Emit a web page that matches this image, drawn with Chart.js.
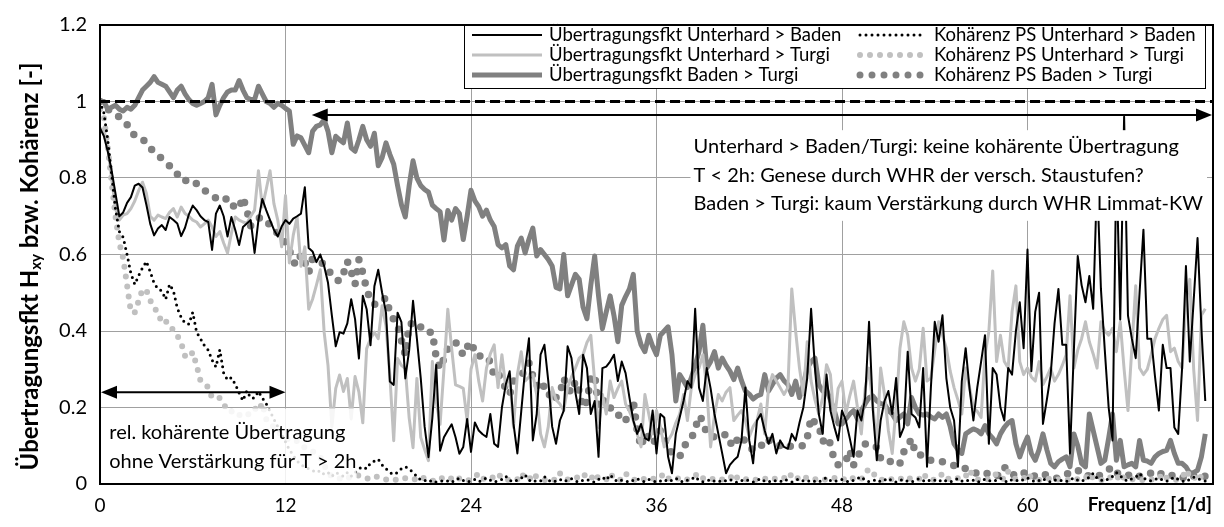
<!DOCTYPE html>
<html>
<head>
<meta charset="utf-8">
<script src="https://cdn.jsdelivr.net/npm/chart.js@4.4.1/dist/chart.umd.min.js"></script>
<style>
  html, body { margin: 0; padding: 0; background: #fff; }
  #wrap { width: 1224px; height: 527px; }
</style>
</head>
<body>
<div id="wrap"><canvas id="spectrumChart" width="1224" height="527"></canvas></div>
<script>
// Frequency grid: one value every 0.25 1/d, starting at 0
const FREQ_STEP = 0.25;
const xTicks = [0, 12, 24, 36, 48, 60, 72];
const yTicks = [0, 0.2, 0.4, 0.6, 0.8, 1, 1.2];

// Übertragungsfkt Unterhard > Baden
const trfUB = [
  0.93, 0.91, 0.87, 0.82, 0.76, 0.70, 0.71, 0.735,
  0.75, 0.78, 0.785, 0.775, 0.73, 0.68, 0.65, 0.668,
  0.677, 0.664, 0.698, 0.69, 0.681, 0.648, 0.67, 0.705,
  0.728, 0.716, 0.70, 0.69, 0.685, 0.612, 0.707, 0.728,
  0.70, 0.647, 0.698, 0.664, 0.625, 0.672, 0.681, 0.69,
  0.604, 0.69, 0.745, 0.716, 0.69, 0.665, 0.647, 0.673,
  0.69, 0.68, 0.694, 0.70, 0.707, 0.776, 0.617, 0.608,
  0.58, 0.60, 0.57, 0.526, 0.44, 0.36, 0.397, 0.393,
  0.42, 0.483, 0.431, 0.328, 0.492, 0.457, 0.363, 0.517,
  0.56, 0.50, 0.448, 0.268, 0.259, 0.448, 0.423, 0.276,
  0.35, 0.479, 0.38, 0.276, 0.15, 0.07, 0.173, 0.311,
  0.087, 0.122, 0.14, 0.156, 0.122, 0.079, 0.097, 0.17,
  0.084, 0.161, 0.14, 0.13, 0.123, 0.183, 0.105, 0.097,
  0.20, 0.26, 0.295, 0.157, 0.08, 0.19, 0.30, 0.381,
  0.114, 0.183, 0.338, 0.364, 0.269, 0.15, 0.105, 0.166,
  0.192, 0.36, 0.329, 0.24, 0.183, 0.338, 0.303, 0.183,
  0.217, 0.071, 0.303, 0.307, 0.32, 0.338, 0.269, 0.32,
  0.29, 0.226, 0.166, 0.131, 0.157, 0.12, 0.114, 0.192,
  0.08, 0.183, 0.174, 0.071, 0.028, 0.131, 0.174, 0.217,
  0.269, 0.252, 0.458, 0.252, 0.217, 0.303, 0.25, 0.183,
  0.131, 0.08, 0.028, 0.05, 0.062, 0.071, 0.114, 0.252,
  0.114, 0.054, 0.166, 0.183, 0.14, 0.105, 0.131, 0.08,
  0.114, 0.097, 0.092, 0.131, 0.114, 0.16, 0.2, 0.277,
  0.458, 0.303, 0.183, 0.131, 0.286, 0.192, 0.15, 0.114,
  0.192, 0.166, 0.12, 0.071, 0.192, 0.166, 0.226, 0.424,
  0.192, 0.062, 0.166, 0.217, 0.243, 0.183, 0.277, 0.123,
  0.148, 0.346, 0.183, 0.174, 0.148, 0.303, 0.045, 0.252,
  0.424, 0.372, 0.441, 0.277, 0.2, 0.166, 0.045, 0.269,
  0.355, 0.25, 0.166, 0.252, 0.32, 0.389, 0.105, 0.303,
  0.286, 0.2, 0.166, 0.303, 0.286, 0.40, 0.475, 0.355,
  0.613, 0.295, 0.45, 0.5, 0.157, 0.22, 0.286, 0.42,
  0.51, 0.364, 0.364, 0.08, 0.35, 0.596, 0.52, 0.475,
  0.544, 0.458, 0.80, 0.51, 0.35, 0.2, 0.114, 0.85,
  0.43, 0.96, 0.44, 0.38, 0.329, 0.50, 0.665, 0.38,
  0.38, 0.28, 0.192, 0.364, 0.303, 0.303, 0.148, 0.131,
  0.303, 0.57, 0.32, 0.48, 0.643, 0.407, 0.217
];

// Übertragungsfkt Unterhard > Turgi
const trfUT = [
  0.93, 0.925, 0.88, 0.80, 0.72, 0.69, 0.703, 0.707,
  0.72, 0.74, 0.767, 0.789, 0.76, 0.70, 0.69, 0.703,
  0.698, 0.694, 0.71, 0.72, 0.698, 0.724, 0.707, 0.70,
  0.69, 0.685, 0.672, 0.68, 0.69, 0.672, 0.647, 0.66,
  0.63, 0.604, 0.655, 0.698, 0.69, 0.685, 0.681, 0.70,
  0.716, 0.819, 0.724, 0.77, 0.819, 0.733, 0.69, 0.62,
  0.754, 0.578, 0.65, 0.698, 0.569, 0.62, 0.457, 0.483,
  0.52, 0.56, 0.397, 0.31, 0.15, 0.25, 0.285, 0.242,
  0.276, 0.17, 0.281, 0.24, 0.16, 0.354, 0.38, 0.397,
  0.38, 0.466, 0.414, 0.285, 0.113, 0.328, 0.31, 0.302,
  0.173, 0.095, 0.276, 0.122, 0.09, 0.061, 0.32, 0.216,
  0.156, 0.30, 0.457, 0.354, 0.259, 0.255, 0.25, 0.165,
  0.30, 0.338, 0.269, 0.217, 0.303, 0.34, 0.364, 0.252,
  0.338, 0.252, 0.286, 0.148, 0.286, 0.346, 0.269, 0.28,
  0.286, 0.234, 0.131, 0.097, 0.15, 0.252, 0.22, 0.209,
  0.192, 0.252, 0.28, 0.303, 0.329, 0.338, 0.37, 0.389,
  0.269, 0.148, 0.234, 0.183, 0.269, 0.226, 0.25, 0.269,
  0.209, 0.19, 0.166, 0.131, 0.097, 0.234, 0.183, 0.131,
  0.192, 0.15, 0.097, 0.114, 0.131, 0.16, 0.183, 0.234,
  0.166, 0.25, 0.286, 0.303, 0.338, 0.252, 0.097, 0.18,
  0.234, 0.217, 0.24, 0.252, 0.166, 0.18, 0.192, 0.166,
  0.123, 0.15, 0.166, 0.209, 0.131, 0.252, 0.286, 0.27,
  0.252, 0.234, 0.252, 0.51, 0.40, 0.303, 0.234, 0.372,
  0.269, 0.22, 0.183, 0.226, 0.312, 0.286, 0.166, 0.25,
  0.269, 0.183, 0.23, 0.269, 0.2, 0.131, 0.25, 0.303,
  0.2, 0.105, 0.303, 0.234, 0.14, 0.08, 0.2, 0.355,
  0.424, 0.389, 0.303, 0.269, 0.3, 0.407, 0.269, 0.277,
  0.35, 0.424, 0.389, 0.355, 0.295, 0.252, 0.22, 0.183,
  0.303, 0.252, 0.2, 0.19, 0.174, 0.338, 0.398, 0.557,
  0.32, 0.389, 0.32, 0.303, 0.45, 0.518, 0.32, 0.286,
  0.303, 0.28, 0.269, 0.32, 0.26, 0.28, 0.303, 0.269,
  0.286, 0.31, 0.338, 0.492, 0.303, 0.35, 0.38, 0.424,
  0.372, 0.34, 0.303, 0.424, 0.40, 0.389, 0.407, 0.346,
  0.424, 0.30, 0.192, 0.355, 0.518, 0.303, 0.286, 0.30,
  0.338, 0.38, 0.407, 0.43, 0.441, 0.346, 0.355, 0.32,
  0.303, 0.475, 0.535, 0.30, 0.166, 0.441, 0.458
];

// Übertragungsfkt Baden > Turgi
const trfBT = [
  1.0, 1.0, 0.98, 0.985, 0.99, 0.98, 0.975, 0.985,
  0.98, 0.99, 1.01, 1.03, 1.04, 1.05, 1.065, 1.05,
  1.045, 1.04, 1.025, 1.01, 1.03, 1.04, 1.02, 1.005,
  0.995, 0.99, 0.995, 1.0, 1.01, 1.045, 0.965, 0.99,
  1.01, 1.025, 1.03, 1.03, 1.055, 1.03, 1.01, 1.005,
  1.005, 1.04, 1.02, 1.0, 0.995, 0.985, 0.995, 0.99,
  0.982, 0.975, 0.888, 0.91, 0.905, 0.885, 0.866, 0.922,
  0.935, 0.939, 0.952, 0.922, 0.866, 0.909, 0.90, 0.892,
  0.944, 0.879, 0.87, 0.90, 0.935, 0.9, 0.883, 0.917,
  0.832, 0.853, 0.892, 0.862, 0.836, 0.78, 0.73, 0.698,
  0.78, 0.845, 0.80, 0.78, 0.77, 0.763, 0.729, 0.72,
  0.712, 0.638, 0.715, 0.69, 0.72, 0.707, 0.639, 0.70,
  0.768, 0.74, 0.725, 0.70, 0.716, 0.69, 0.673, 0.626,
  0.617, 0.626, 0.57, 0.56, 0.622, 0.643, 0.604, 0.64,
  0.669, 0.596, 0.613, 0.60, 0.587, 0.57, 0.514, 0.51,
  0.60, 0.492, 0.52, 0.548, 0.535, 0.462, 0.432, 0.52,
  0.596, 0.492, 0.406, 0.45, 0.492, 0.44, 0.372, 0.467,
  0.49, 0.51, 0.548, 0.40, 0.364, 0.346, 0.389, 0.36,
  0.338, 0.389, 0.40, 0.411, 0.338, 0.217, 0.286, 0.27,
  0.252, 0.277, 0.31, 0.346, 0.415, 0.303, 0.32, 0.346,
  0.303, 0.329, 0.31, 0.295, 0.273, 0.303, 0.27, 0.243,
  0.235, 0.222, 0.23, 0.234, 0.286, 0.243, 0.26, 0.277,
  0.286, 0.27, 0.26, 0.234, 0.269, 0.226, 0.26, 0.303,
  0.32, 0.329, 0.26, 0.243, 0.247, 0.22, 0.192, 0.157,
  0.157, 0.17, 0.183, 0.192, 0.17, 0.192, 0.21, 0.226,
  0.23, 0.217, 0.21, 0.209, 0.192, 0.183, 0.166, 0.175,
  0.183, 0.157, 0.226, 0.2, 0.183, 0.18, 0.183, 0.175,
  0.17, 0.183, 0.174, 0.183, 0.15, 0.105, 0.09, 0.08,
  0.131, 0.138, 0.144, 0.14, 0.131, 0.153, 0.131, 0.12,
  0.105, 0.131, 0.148, 0.16, 0.166, 0.105, 0.071, 0.1,
  0.123, 0.08, 0.062, 0.09, 0.131, 0.09, 0.054, 0.045,
  0.058, 0.065, 0.071, 0.045, 0.131, 0.1, 0.054, 0.045,
  0.183, 0.14, 0.097, 0.054, 0.062, 0.12, 0.183, 0.062,
  0.114, 0.045, 0.05, 0.054, 0.045, 0.114, 0.062, 0.06,
  0.054, 0.071, 0.08, 0.085, 0.088, 0.114, 0.08, 0.054,
  0.054, 0.045, 0.028, 0.03, 0.036, 0.071, 0.131
];

// Kohärenz PS Unterhard > Baden
const cohUB = [
  1.0, 0.97, 0.90, 0.81, 0.72, 0.66, 0.645, 0.60,
  0.55, 0.522, 0.545, 0.565, 0.582, 0.555, 0.525, 0.51,
  0.505, 0.483, 0.522, 0.505, 0.46, 0.436, 0.42, 0.418,
  0.449, 0.397, 0.38, 0.362, 0.35, 0.324, 0.306, 0.351,
  0.29, 0.272, 0.278, 0.261, 0.238, 0.218, 0.244, 0.225,
  0.225, 0.242, 0.225, 0.21, 0.19, 0.17, 0.15, 0.13,
  0.11, 0.09, 0.075, 0.06, 0.05, 0.045, 0.04, 0.035,
  0.03, 0.035, 0.025, 0.03, 0.02, 0.03, 0.025, 0.02,
  0.03, 0.02, 0.03, 0.04, 0.045, 0.04, 0.055, 0.06,
  0.065, 0.05, 0.04, 0.03, 0.025, 0.03, 0.04, 0.045,
  0.04, 0.03, 0.02, 0.01, 0.01, 0.005, 0.01, 0.005,
  0.006, 0.010, 0.008, 0.004, 0.012, 0.015, 0.009, 0.005,
  0.008, 0.012, 0.006, 0.010, 0.016, 0.010, 0.005, 0.008,
  0.012, 0.020, 0.010, 0.006, 0.010, 0.015, 0.024, 0.010,
  0.005, 0.010, 0.008, 0.019, 0.010, 0.005, 0.008, 0.012,
  0.006, 0.010, 0.014, 0.008, 0.005, 0.010, 0.012, 0.007,
  0.005, 0.012, 0.018, 0.010, 0.024, 0.012, 0.006, 0.010,
  0.008, 0.005, 0.010, 0.014, 0.008, 0.006, 0.012, 0.009,
  0.005, 0.008, 0.012, 0.006, 0.010, 0.015, 0.008, 0.005,
  0.010, 0.012, 0.019, 0.010, 0.006, 0.008, 0.012, 0.007,
  0.005, 0.010, 0.008, 0.012, 0.006, 0.004, 0.009, 0.012,
  0.008, 0.005, 0.010, 0.014, 0.007, 0.005, 0.010, 0.008,
  0.006, 0.012, 0.009, 0.005, 0.010, 0.013, 0.008, 0.006,
  0.010, 0.007, 0.005, 0.012, 0.016, 0.009, 0.006, 0.010,
  0.012, 0.008, 0.005, 0.010, 0.014, 0.019, 0.010, 0.006,
  0.008, 0.012, 0.006, 0.010, 0.015, 0.008, 0.005, 0.010,
  0.012, 0.007, 0.005, 0.010, 0.014, 0.009, 0.006, 0.012,
  0.010, 0.006, 0.012, 0.008, 0.005, 0.010, 0.014, 0.008,
  0.006, 0.012, 0.010, 0.005, 0.008, 0.013, 0.009, 0.006,
  0.010, 0.015, 0.008, 0.005, 0.012, 0.010, 0.007, 0.012,
  0.016, 0.010, 0.006, 0.009, 0.014, 0.008, 0.005, 0.010,
  0.012, 0.008, 0.006, 0.011, 0.016, 0.010, 0.007, 0.012,
  0.018, 0.028, 0.015, 0.010, 0.008, 0.014, 0.020, 0.030,
  0.022, 0.012, 0.008, 0.014, 0.018, 0.028, 0.016, 0.010,
  0.008, 0.012, 0.016, 0.010, 0.007, 0.012, 0.018, 0.012,
  0.008, 0.006, 0.012, 0.018, 0.014, 0.010, 0.008
];

// Kohärenz PS Unterhard > Turgi
const cohUT = [
  0.98, 0.96, 0.88, 0.79, 0.70, 0.63, 0.59, 0.52,
  0.449, 0.449, 0.479, 0.509, 0.507, 0.48, 0.46, 0.449,
  0.42, 0.425, 0.42, 0.40, 0.388, 0.369, 0.335, 0.33,
  0.345, 0.31, 0.27, 0.262, 0.253, 0.225, 0.224, 0.225,
  0.21, 0.19, 0.19, 0.178, 0.18, 0.182, 0.178, 0.19,
  0.199, 0.19, 0.212, 0.17, 0.155, 0.15, 0.14, 0.125,
  0.12, 0.115, 0.11, 0.113, 0.105, 0.095, 0.09, 0.085,
  0.08, 0.07, 0.05, 0.03, 0.02, 0.015, 0.014, 0.02,
  0.018, 0.015, 0.02, 0.023, 0.02, 0.015, 0.012, 0.018,
  0.02, 0.015, 0.012, 0.014, 0.01, 0.012, 0.01, 0.015,
  0.012, 0.010, 0.015, 0.020, 0.014, 0.010, 0.008, 0.012,
  0.018, 0.012, 0.010, 0.015, 0.022, 0.014, 0.010, 0.008,
  0.012, 0.018, 0.028, 0.015, 0.010, 0.012, 0.020, 0.028,
  0.014, 0.010, 0.012, 0.016, 0.012, 0.028, 0.015, 0.010,
  0.028, 0.018, 0.012, 0.010, 0.015, 0.012, 0.010, 0.028,
  0.016, 0.012, 0.010, 0.014, 0.020, 0.028, 0.015, 0.012,
  0.028, 0.014, 0.010, 0.012, 0.028, 0.015, 0.010, 0.012,
  0.028, 0.016, 0.012, 0.010, 0.015, 0.012, 0.010, 0.014,
  0.012, 0.018, 0.028, 0.015, 0.010, 0.012, 0.016, 0.010,
  0.012, 0.015, 0.022, 0.028, 0.015, 0.010, 0.012, 0.014,
  0.010, 0.012, 0.016, 0.014, 0.028, 0.015, 0.010, 0.012,
  0.014, 0.010, 0.012, 0.016, 0.014, 0.010, 0.012, 0.015,
  0.012, 0.016, 0.010, 0.028, 0.018, 0.012, 0.020, 0.015,
  0.010, 0.012, 0.015, 0.014, 0.010, 0.012, 0.016, 0.012,
  0.010, 0.015, 0.020, 0.014, 0.010, 0.012, 0.028, 0.040,
  0.030, 0.015, 0.012, 0.010, 0.015, 0.012, 0.010, 0.014,
  0.012, 0.018, 0.012, 0.010, 0.014, 0.028, 0.015, 0.010,
  0.012, 0.014, 0.028, 0.016, 0.012, 0.010, 0.015, 0.012,
  0.020, 0.037, 0.020, 0.012, 0.010, 0.014, 0.012, 0.015,
  0.028, 0.018, 0.012, 0.032, 0.020, 0.012, 0.010, 0.014,
  0.028, 0.016, 0.012, 0.010, 0.014, 0.012, 0.015, 0.010,
  0.012, 0.014, 0.010, 0.012, 0.016, 0.012, 0.010, 0.015,
  0.028, 0.015, 0.012, 0.010, 0.014, 0.020, 0.012, 0.010,
  0.028, 0.015, 0.010, 0.012, 0.014, 0.012, 0.010, 0.015,
  0.012, 0.010, 0.014, 0.028, 0.016, 0.012, 0.010, 0.012,
  0.015, 0.037, 0.020, 0.012, 0.028, 0.016, 0.012
];

// Kohärenz PS Baden > Turgi
const cohBT = [
  1.0, 0.99, 0.98, 0.973, 0.965, 0.96, 0.952, 0.94,
  0.92, 0.912, 0.908, 0.903, 0.89, 0.878, 0.868, 0.86,
  0.85, 0.84, 0.832, 0.825, 0.81, 0.793, 0.793, 0.795,
  0.795, 0.785, 0.775, 0.768, 0.76, 0.753, 0.748, 0.742,
  0.74, 0.748, 0.735, 0.72, 0.722, 0.75, 0.716, 0.675,
  0.685, 0.695, 0.697, 0.688, 0.677, 0.665, 0.655, 0.645,
  0.63, 0.612, 0.58, 0.573, 0.60, 0.58, 0.552, 0.59,
  0.585, 0.58, 0.575, 0.56, 0.547, 0.535, 0.53, 0.55,
  0.582, 0.555, 0.522, 0.586, 0.552, 0.509, 0.48, 0.47,
  0.47, 0.48, 0.487, 0.449, 0.43, 0.414, 0.375, 0.337,
  0.418, 0.42, 0.423, 0.41, 0.397, 0.397, 0.397, 0.33,
  0.302, 0.328, 0.354, 0.36, 0.371, 0.355, 0.337, 0.358,
  0.372, 0.345, 0.333, 0.338, 0.33, 0.32, 0.282, 0.29,
  0.27, 0.25, 0.234, 0.269, 0.275, 0.282, 0.30, 0.316,
  0.282, 0.26, 0.243, 0.258, 0.24, 0.217, 0.226, 0.235,
  0.277, 0.25, 0.239, 0.269, 0.243, 0.2, 0.217, 0.277,
  0.286, 0.2, 0.217, 0.22, 0.2, 0.183, 0.179, 0.183,
  0.166, 0.19, 0.217, 0.14, 0.097, 0.131, 0.123, 0.105,
  0.12, 0.14, 0.12, 0.097, 0.08, 0.075, 0.071, 0.097,
  0.11, 0.118, 0.144, 0.178, 0.166, 0.131, 0.127, 0.123,
  0.123, 0.123, 0.131, 0.11, 0.097, 0.118, 0.127, 0.11,
  0.1, 0.088, 0.092, 0.097, 0.118, 0.114, 0.112, 0.105,
  0.1, 0.092, 0.096, 0.1, 0.1, 0.1, 0.1, 0.12,
  0.174, 0.16, 0.153, 0.11, 0.123, 0.105, 0.062, 0.05,
  0.05, 0.06, 0.088, 0.05, 0.071, 0.09, 0.105, 0.097,
  0.097, 0.097, 0.067, 0.067, 0.067, 0.05, 0.052, 0.054,
  0.084, 0.1, 0.118, 0.08, 0.08, 0.067, 0.065, 0.062,
  0.058, 0.058, 0.058, 0.055, 0.05, 0.048, 0.045, 0.045,
  0.04, 0.032, 0.03, 0.028, 0.03, 0.032, 0.023, 0.02,
  0.019, 0.03, 0.045, 0.03, 0.028, 0.019, 0.022, 0.028,
  0.032, 0.023, 0.02, 0.025, 0.028, 0.022, 0.018, 0.015,
  0.015, 0.02, 0.025, 0.03, 0.035, 0.037, 0.025, 0.02,
  0.022, 0.02, 0.018, 0.025, 0.03, 0.038, 0.045, 0.03,
  0.025, 0.02, 0.022, 0.028, 0.025, 0.02, 0.025, 0.03,
  0.028, 0.02, 0.025, 0.028, 0.022, 0.02, 0.025, 0.02,
  0.018, 0.015, 0.012, 0.02, 0.025, 0.025, 0.02
];

// Reference line H = 1
const refLine = [1, 1];
const refX = [0, 72];

// Annotation texts
const noteRight = [
  "Unterhard > Baden/Turgi: keine kohärente Übertragung",
  "T < 2h: Genese durch WHR der versch. Staustufen?",
  "Baden > Turgi: kaum Verstärkung durch WHR Limmat-KW"
];
const noteLeft = [
  "rel. kohärente Übertragung",
  "ohne Verstärkung für T > 2h"
];

const FONT = "Lato";

function toPoints(values) {
  return values.map((v, i) => ({ x: i * FREQ_STEP, y: v }));
}

function lineSet(label, values, color, width, dash, legendPos) {
  return {
    label: label,
    data: toPoints(values),
    borderColor: color,
    backgroundColor: color,
    borderWidth: width,
    borderDash: dash,
    borderCapStyle: dash.length ? "round" : "butt",
    borderJoinStyle: "round",
    pointRadius: 0,
    tension: 0,
    legendPos: legendPos,
  };
}

// Arrow heads for the annotation arrows
function arrowHead(ctx, xTip, yTip, dir) {
  ctx.beginPath();
  ctx.moveTo(xTip, yTip);
  ctx.lineTo(xTip - dir * 16, yTip - 6.5);
  ctx.lineTo(xTip - dir * 16, yTip + 6.5);
  ctx.closePath();
  ctx.fill();
}

function doubleArrow(ctx, x0, x1, y) {
  ctx.beginPath();
  ctx.moveTo(x0 + 6, y);
  ctx.lineTo(x1 - 6, y);
  ctx.stroke();
  arrowHead(ctx, x0, y, -1);
  arrowHead(ctx, x1, y, 1);
}

const overlayPlugin = {
  id: "overlay",
  afterDatasetsDraw(chart) {
    const ctx = chart.ctx;
    const a = chart.chartArea;
    const xs = chart.scales.x;
    const ys = chart.scales.y;
    ctx.save();

    // left note box (semi transparent)
    const lbX0 = a.left + 1;
    const lbX1 = xs.getPixelForValue(16.6);
    const lbY0 = ys.getPixelForValue(0.2);
    ctx.fillStyle = "rgba(255,255,255,0.85)";
    ctx.fillRect(lbX0, lbY0 + 1, lbX1 - lbX0, a.bottom - lbY0 - 2);

    ctx.fillStyle = "#000";
    ctx.font = "20px " + FONT;
    ctx.textAlign = "left";
    ctx.textBaseline = "middle";
    ctx.fillText(noteLeft[0], xs.getPixelForValue(0.6), ys.getPixelForValue(0.135));
    ctx.fillText(noteLeft[1], xs.getPixelForValue(0.6), ys.getPixelForValue(0.058));

    // right note box
    const rbX0 = xs.getPixelForValue(38.2);
    const rbX1 = a.right - 6;
    const rbY0 = ys.getPixelForValue(0.925);
    const rbY1 = ys.getPixelForValue(0.688);
    ctx.fillStyle = "#fff";
    ctx.fillRect(rbX0, rbY0, rbX1 - rbX0, rbY1 - rbY0);
    ctx.fillStyle = "#000";
    const tx = xs.getPixelForValue(38.4);
    ctx.fillText(noteRight[0], tx, ys.getPixelForValue(0.882));
    ctx.fillText(noteRight[1], tx, ys.getPixelForValue(0.807));
    ctx.fillText(noteRight[2], tx, ys.getPixelForValue(0.733));

    // arrows
    ctx.strokeStyle = "#000";
    ctx.lineWidth = 2;
    doubleArrow(ctx, xs.getPixelForValue(0) + 1, xs.getPixelForValue(12), ys.getPixelForValue(0.24));
    doubleArrow(ctx, xs.getPixelForValue(13.7), a.right - 1, ys.getPixelForValue(0.965));

    // plot frame
    ctx.lineWidth = 2;
    ctx.strokeRect(a.left, a.top, a.right - a.left, a.bottom - a.top);

    // legend box
    const lg = { x0: 464, y0: 25, x1: 1205, y1: 88 };
    ctx.fillStyle = "#fff";
    ctx.fillRect(lg.x0, lg.y0, lg.x1 - lg.x0, lg.y1 - lg.y0);
    ctx.lineWidth = 1;
    ctx.strokeStyle = "#000";
    ctx.strokeRect(lg.x0 + 0.5, lg.y0 + 0.5, lg.x1 - lg.x0, lg.y1 - lg.y0);

    const cols = [
      { sx0: 472, sx1: 542, tx: 549 },
      { sx0: 860, sx1: 924, tx: 934 },
    ];
    const rows = [35, 55, 75];
    ctx.font = "18.5px " + FONT;
    chart.data.datasets.forEach((ds) => {
      if (!ds.legendPos) return;
      const c = cols[ds.legendPos[0]];
      const yy = rows[ds.legendPos[1]];
      ctx.save();
      ctx.strokeStyle = ds.borderColor;
      ctx.lineWidth = Math.min(ds.borderWidth, 7);
      ctx.setLineDash(ds.borderDash);
      ctx.lineCap = ds.borderCapStyle;
      ctx.beginPath();
      ctx.moveTo(c.sx0, yy);
      ctx.lineTo(c.sx1, yy);
      ctx.stroke();
      ctx.restore();
      ctx.fillStyle = "#000";
      ctx.fillText(ds.label, c.tx, yy);
    });

    ctx.restore();
  },
  afterDraw(chart) {
    const ctx = chart.ctx;
    const a = chart.chartArea;
    ctx.save();
    ctx.fillStyle = "#000";

    // x axis title at the right end
    ctx.font = "bold 19px " + FONT;
    ctx.textAlign = "right";
    ctx.textBaseline = "middle";
    ctx.fillText("Frequenz [1/d]", a.right - 1, 505);

    // y axis title with subscript
    const main = "bold 24px " + FONT;
    const sub = "bold 15px " + FONT;
    const parts = [
      ["Übertragungsfkt H", main, 0],
      ["xy", sub, 6],
      [" bzw. Kohärenz [-]", main, 0],
    ];
    let total = 0;
    parts.forEach((p) => {
      ctx.font = p[1];
      total += ctx.measureText(p[0]).width;
    });
    ctx.translate(30, (a.top + a.bottom) / 2 + 12);
    ctx.rotate(-Math.PI / 2);
    ctx.textAlign = "left";
    let cx = -total / 2;
    parts.forEach((p) => {
      ctx.font = p[1];
      ctx.fillText(p[0], cx, p[2]);
      cx += ctx.measureText(p[0]).width;
    });
    ctx.restore();
  },
};

const ctx = document.getElementById("spectrumChart");

const config = {
  type: "line",
  data: {
    datasets: [
      {
        label: "ref",
        data: refX.map((x, i) => ({ x: x, y: refLine[i] })),
        borderColor: "#000",
        borderWidth: 3,
        borderDash: [10, 5],
        pointRadius: 0,
      },
      lineSet("Übertragungsfkt Unterhard > Baden", trfUB, "#000000", 2, [], [0, 0]),
      lineSet("Kohärenz PS Unterhard > Baden", cohUB, "#000000", 3, [0, 6], [1, 0]),
      lineSet("Übertragungsfkt Unterhard > Turgi", trfUT, "#c0c0c0", 3, [], [0, 1]),
      lineSet("Kohärenz PS Unterhard > Turgi", cohUT, "#c0c0c0", 6, [0, 10], [1, 1]),
      lineSet("Kohärenz PS Baden > Turgi", cohBT, "#808080", 7.5, [0, 12], [1, 2]),
      lineSet("Übertragungsfkt Baden > Turgi", trfBT, "#808080", 5, [], [0, 2]),
    ],
  },
  options: {
    responsive: false,
    animation: false,
    devicePixelRatio: 1,
    layout: { padding: { top: 19, right: 11, left: 0, bottom: 0 } },
    plugins: {
      legend: { display: false },
      tooltip: { enabled: false },
    },
    scales: {
      x: {
        type: "linear",
        min: 0,
        max: 72,
        afterBuildTicks: (scale) => {
          scale.ticks = xTicks.map((v) => ({ value: v }));
        },
        afterFit: (scale) => {
          scale.height = 43;
        },
        ticks: {
          callback: (v) => (v === 72 ? "" : v),
          font: { family: FONT, size: 19 },
          color: "#000",
          padding: 10,
          maxRotation: 0,
        },
        grid: { color: "#a0a0a0", lineWidth: 1, drawTicks: false },
        border: { display: true, color: "#000", width: 2 },
      },
      y: {
        min: 0,
        max: 1.2,
        afterBuildTicks: (scale) => {
          scale.ticks = yTicks.map((v) => ({ value: v }));
        },
        afterFit: (scale) => {
          scale.width = 100;
        },
        ticks: {
          callback: (v) => String(Math.round(v * 10) / 10),
          font: { family: FONT, size: 20 },
          color: "#000",
          padding: 13,
        },
        grid: { color: "#a0a0a0", lineWidth: 1, drawTicks: false },
        border: { display: true, color: "#000", width: 2 },
      },
    },
  },
  plugins: [overlayPlugin],
};

new Chart(ctx, config);
</script>
</body>
</html>
